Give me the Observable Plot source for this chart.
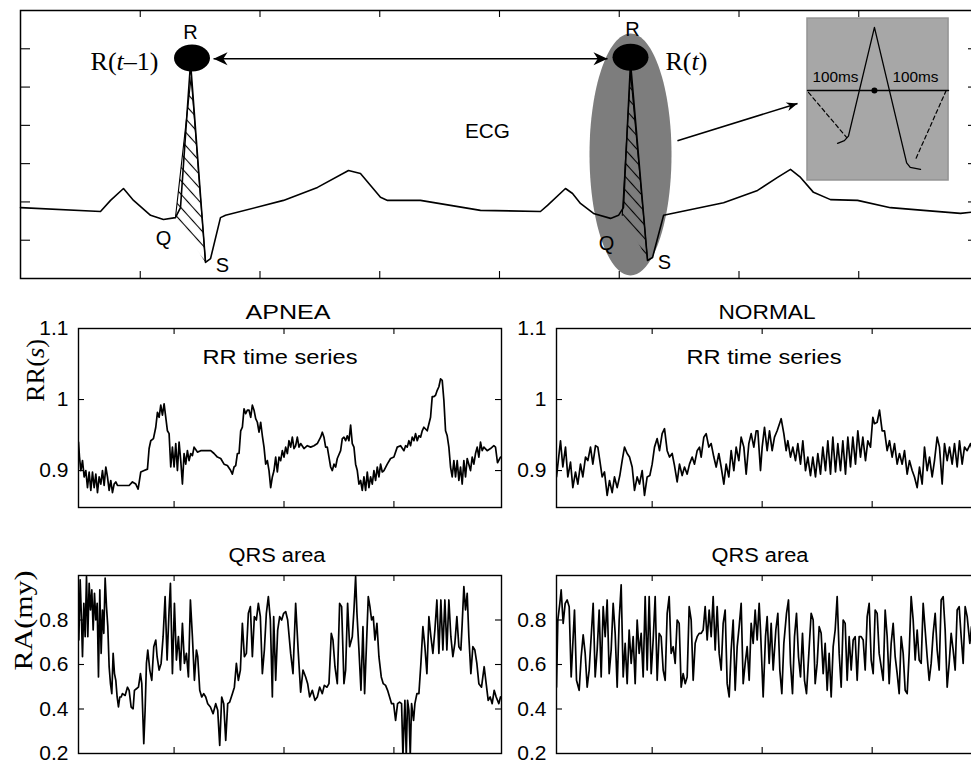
<!DOCTYPE html>
<html><head><meta charset="utf-8">
<script src="https://cdn.jsdelivr.net/npm/d3@7"></script>
<script src="https://cdn.jsdelivr.net/npm/@observablehq/plot@0.6"></script>
<style>
html,body{margin:0;padding:0;background:#fff;overflow:hidden;}
#fig{position:relative;width:971px;height:765px;overflow:hidden;background:#fff;}
#fig svg{position:absolute;overflow:visible;max-width:none !important;background:transparent !important;}
</style></head><body><div id="fig"></div><script>
// ---------- top panel: ECG sketch ----------
const ecgTime = [0,0.668,0.752,0.860,0.944,1.086,1.194,1.294,1.336,1.420,1.545,1.587,1.670,1.712,2.196,2.480,2.739,2.839,3.006,3.065,3.340,3.591,3.841,4.342,4.401,4.551,4.610,4.676,4.785,4.927,4.994,5.035,5.094,5.236,5.278,5.370,5.871,6.155,6.322,6.430,6.514,6.622,6.764,6.990,7.265,7.541,7.850,8.0];
const ecgAmp  = [1.85,1.75,2.04,2.35,2.04,1.65,1.54,1.59,1.85,5.64,0.42,0.52,1.59,1.65,2.04,2.38,2.82,2.74,2.12,2.04,2.04,1.91,1.78,1.75,1.91,2.35,2.22,1.96,1.70,1.57,1.65,1.85,5.64,0.47,0.55,1.65,1.98,2.30,2.64,2.85,2.64,2.25,2.06,2.04,1.85,1.78,1.70,1.75];
const qrsBeat = [1,1,1,2,2,2];
const qrsTime = [1.294,1.425,1.545,5.025,5.094,5.236];
const qrsAmp  = [1.59,5.26,0.42,1.65,5.38,0.50];
const rPeakTime = [1.432,5.094];
const rPeakAmp  = [5.76,5.78];
const focusTime = [5.094];
const focusAmp  = [3.24];
const rrIntervalT = [1.612,4.902];
const rrIntervalA = [5.74,5.74];
const zoomArrowT = [5.486,6.489];
const zoomArrowA = [3.60,4.57];
const insetBoxT = [6.572,7.750];
const insetBoxA = [2.56,6.79];
const insetWaveT = [6.823,6.88,6.914,7.131,7.40,7.43,7.516];
const insetWaveA = [3.53,3.60,3.72,6.56,3.02,2.90,2.85];
const insetBaseT = [6.572,7.750];
const insetBaseA = [4.91,4.91];
const insetDashSeg = [1,1,2,2];
const insetDashT = [6.58,6.90,7.73,7.47];
const insetDashA = [4.86,3.68,4.91,3.08];
const insetCenterT = [7.131], insetCenterA = [4.91];
const sansLabels = ["R","R","Q","S","Q","S","ECG"];
const sansLabelT = [1.420,5.111,1.194,1.687,4.894,5.378,3.90];
const sansLabelA = [6.41,6.50,1.03,0.35,0.91,0.42,3.84];
const msLabels = ["100ms","100ms"];
const msLabelT = [6.806,7.474];
const msLabelA = [5.25,5.25];
const serifLabels = ["R(t–1)","R(t)"];
const serifLabelT = [1.152,5.386];
const serifLabelA = [5.67,5.67];
const ecgXTicks = [1,2,3,4,5,6,7];
const ecgYTicks = [1,2,3,4,5,6];

// ---------- lower panels ----------
const panelTitles = ["APNEA","NORMAL"];
const rowTitles = ["RR time series","QRS area"];
const rowLabels = ["RR(s)","RA(my)"];
const rrTicks = [0.9,1,1.1];
const raTicks = [0.2,0.4,0.6,0.8];
const beatTicks = [58,124,190];

const apneaRR = [[0.6,0.940],[1.2,0.919],[2,0.900],[3,0.914],[4,0.891],[5,0.900],[6,0.876],[7,0.898],[8,0.872],[9,0.898],[10,0.876],[11,0.895],[12,0.869],[13,0.891],[14,0.881],[15,0.900],[16,0.879],[17,0.905],[18,0.891],[19,0.872],[20,0.886],[21,0.869],[22,0.881],[23,0.884],[24,0.879],[26,0.879],[29,0.879],[31,0.879],[33,0.884],[35,0.881],[36.4,0.874],[38,0.898],[40,0.900],[42,0.902],[43,0.931],[44,0.942],[45.6,0.945],[47,0.961],[48,0.982],[49,0.975],[50,0.992],[51,0.978],[52,0.994],[53,0.975],[54,0.956],[55,0.952],[56,0.905],[57,0.933],[58,0.905],[59,0.938],[60,0.900],[61,0.940],[62,0.914],[63,0.881],[64,0.924],[65,0.909],[66,0.928],[67,0.914],[68,0.924],[69,0.921],[70,0.933],[72,0.926],[74,0.928],[76,0.928],[78,0.928],[80,0.928],[82,0.924],[84,0.919],[86,0.917],[88,0.909],[90,0.907],[92,0.900],[93,0.895],[94,0.905],[95,0.907],[96,0.924],[97,0.924],[98,0.956],[99,0.961],[100,0.987],[101,0.980],[102,0.985],[103,0.985],[104,0.975],[105,0.992],[106,0.985],[107,0.973],[108,0.968],[109,0.954],[110,0.968],[111,0.949],[112,0.933],[113,0.909],[114,0.914],[115,0.900],[116,0.876],[117,0.891],[118,0.900],[119,0.919],[120,0.898],[121,0.919],[122,0.914],[123,0.928],[124,0.919],[125,0.933],[126,0.924],[127,0.942],[128,0.933],[129,0.947],[130,0.931],[131,0.935],[132,0.947],[133,0.933],[134,0.938],[136,0.931],[138,0.935],[140,0.933],[142,0.935],[144,0.938],[146,0.947],[147,0.954],[148,0.947],[149,0.933],[150,0.933],[151,0.919],[152,0.905],[153,0.900],[154,0.909],[155,0.905],[156,0.917],[158,0.928],[159,0.945],[160,0.947],[161,0.942],[162,0.949],[163,0.942],[164,0.964],[165,0.938],[166,0.933],[167,0.909],[168,0.900],[169,0.881],[170,0.886],[171,0.872],[172,0.891],[173,0.872],[174,0.898],[175,0.876],[176,0.891],[177,0.881],[178,0.900],[179,0.886],[180,0.905],[181,0.891],[182,0.909],[183,0.898],[184,0.900],[186,0.909],[188,0.917],[190,0.919],[192,0.933],[194,0.935],[196,0.928],[197,0.935],[198,0.933],[199,0.942],[200,0.935],[201,0.947],[202,0.942],[203,0.952],[204,0.942],[205,0.949],[206,0.947],[207,0.956],[208,0.961],[210,0.956],[212,0.975],[213,1.004],[214,1.004],[215,1.006],[216,1.013],[217,1.018],[218,1.029],[219,1.027],[220,0.999],[221,0.956],[222,0.949],[223,0.933],[224,0.905],[225,0.891],[226,0.914],[227,0.891],[228,0.914],[229,0.886],[230,0.905],[231,0.881],[232,0.914],[233,0.891],[234,0.917],[236,0.900],[237,0.919],[238,0.909],[239,0.924],[240,0.933],[241,0.919],[242,0.940],[243,0.928],[244,0.933],[246,0.928],[248,0.931],[250,0.935],[251,0.933],[252.2,0.911],[254,0.919]];

const normalRR = [[0.6,0.891],[3,0.942],[4.4,0.905],[6,0.933],[7.4,0.891],[9,0.912],[10.4,0.876],[12,0.898],[13.4,0.881],[15,0.909],[16.4,0.891],[18,0.919],[19.4,0.914],[21,0.933],[22.4,0.909],[24,0.935],[25.4,0.933],[26.6,0.914],[28,0.891],[29.4,0.898],[31,0.865],[32.4,0.886],[34,0.869],[35.4,0.891],[37,0.876],[38.6,0.893],[40,0.914],[41.4,0.933],[43,0.924],[44.4,0.919],[46,0.905],[47.4,0.872],[49,0.891],[50.4,0.881],[52,0.900],[53.4,0.865],[55,0.891],[56.6,0.893],[58,0.909],[59.4,0.933],[61,0.945],[62.4,0.928],[64,0.952],[65.4,0.959],[67,0.928],[68.4,0.919],[70,0.924],[71.4,0.907],[73,0.884],[74.4,0.909],[76,0.893],[77.4,0.905],[79,0.895],[80.4,0.909],[82,0.919],[83.4,0.909],[85,0.928],[86.4,0.933],[87.4,0.919],[89,0.947],[90.4,0.952],[92,0.933],[93.4,0.938],[95,0.919],[96.4,0.905],[98,0.924],[99.4,0.905],[101,0.881],[102.4,0.909],[104,0.891],[105.4,0.928],[107,0.900],[108.4,0.933],[110,0.914],[111.4,0.947],[113,0.933],[114.4,0.895],[116,0.938],[117.4,0.952],[119,0.933],[120.4,0.956],[121.4,0.956],[123,0.900],[124,0.933],[125.4,0.961],[127,0.928],[128.4,0.956],[130,0.928],[131.4,0.947],[133,0.956],[134.4,0.966],[135.4,0.973],[137,0.952],[138.4,0.928],[139.4,0.942],[141,0.919],[142.4,0.933],[144,0.914],[145.4,0.938],[147,0.909],[148.4,0.942],[150,0.900],[151.4,0.919],[153,0.893],[154.4,0.919],[156,0.891],[157.4,0.924],[159,0.895],[160.4,0.933],[162,0.900],[163.4,0.942],[165,0.895],[166.4,0.947],[168,0.898],[169.4,0.938],[171,0.900],[172.4,0.942],[174,0.895],[175.4,0.947],[177,0.905],[178.4,0.947],[180,0.909],[181.4,0.956],[183,0.919],[184.4,0.947],[186,0.914],[187.4,0.942],[189,0.933],[190.4,0.975],[191.4,0.966],[193,0.968],[194.4,0.985],[196,0.956],[197.4,0.956],[199,0.928],[200.4,0.942],[202,0.919],[203.4,0.938],[205,0.909],[206.4,0.924],[208,0.909],[209.4,0.928],[211,0.895],[212.4,0.914],[214,0.900],[215.4,0.891],[217,0.876],[218.4,0.905],[220,0.881],[221.4,0.933],[223,0.900],[224.4,0.919],[226,0.891],[227.4,0.914],[229,0.947],[230.4,0.933],[232,0.881],[233.4,0.938],[235,0.914],[236.4,0.933],[238,0.909],[239.4,0.938],[241,0.905],[242.4,0.942],[244,0.909],[245.4,0.933],[247,0.928],[249,0.938],[251,0.921],[253,0.933],[255,0.924]];

const apneaRA = [[0.8,0.710],[1.6,0.980],[2.4,0.800],[3,0.635],[3.8,0.875],[4.6,0.725],[5.4,0.995],[6.2,0.725],[7,0.965],[7.8,0.845],[8.6,0.935],[9.4,0.755],[10.2,0.920],[11,0.800],[11.8,0.875],[12.6,0.544],[13.4,0.935],[14.2,0.650],[15,0.845],[15.8,0.740],[16.6,0.988],[17.4,0.860],[18.2,0.770],[19,0.590],[19.8,0.514],[20.6,0.469],[21.4,0.650],[22.2,0.559],[23,0.529],[23.8,0.454],[24.6,0.409],[25.4,0.454],[26.2,0.454],[27,0.469],[28.6,0.461],[30,0.498],[31,0.484],[32.2,0.409],[33.4,0.401],[34.2,0.484],[35.4,0.491],[36.6,0.498],[37.8,0.559],[38.6,0.514],[39.8,0.244],[40.6,0.394],[41.4,0.605],[42.2,0.665],[43.4,0.575],[44.6,0.529],[45.8,0.680],[47,0.710],[47.8,0.635],[49,0.575],[50.2,0.605],[51.4,0.725],[52.6,0.905],[53.8,0.620],[55,0.845],[55.8,0.965],[57,0.559],[58.2,0.875],[59.4,0.620],[60.6,0.725],[61.8,0.575],[63,0.785],[64.2,0.605],[65.4,0.650],[66.6,0.544],[67.8,0.890],[69,0.725],[70.2,0.529],[71.4,0.665],[72.2,0.635],[73.4,0.484],[74.6,0.454],[75.8,0.469],[77,0.454],[78.2,0.424],[79.8,0.409],[81.4,0.379],[83,0.424],[84.2,0.394],[85.4,0.236],[86.6,0.454],[87.8,0.424],[89,0.259],[90.2,0.424],[91.4,0.431],[93,0.469],[94.2,0.498],[95.4,0.605],[96.6,0.529],[97.8,0.575],[99,0.785],[100.2,0.635],[101.4,0.650],[102.6,0.830],[103.8,0.860],[105,0.635],[106.2,0.815],[107.4,0.800],[108.6,0.875],[109.8,0.815],[111,0.559],[112.2,0.665],[113.4,0.830],[114.6,0.905],[115.8,0.800],[117,0.454],[117.8,0.815],[119,0.529],[120.2,0.755],[121.4,0.815],[122.6,0.800],[123.8,0.830],[125,0.838],[126.2,0.800],[128,0.650],[129.4,0.559],[131,0.875],[132.6,0.650],[134,0.476],[135.4,0.575],[137,0.544],[138.2,0.514],[139.4,0.454],[141,0.484],[142.6,0.439],[144,0.454],[145.4,0.498],[147,0.469],[148.2,0.506],[149.8,0.498],[151,0.514],[152.4,0.740],[153.4,0.710],[154.6,0.590],[156,0.514],[157.4,0.875],[158.6,0.860],[160,0.514],[161,0.575],[162.2,0.875],[163.4,0.680],[165,0.725],[166,0.845],[167,0.995],[167.8,0.830],[169,0.665],[170.2,0.484],[171.4,0.770],[172.4,0.469],[173.4,0.665],[174.6,0.905],[175.6,0.860],[176.6,0.800],[177.6,0.815],[178.6,0.710],[179.8,0.785],[181,0.635],[182.4,0.544],[183.6,0.514],[185,0.506],[186.2,0.484],[187.4,0.454],[188.6,0.424],[189.8,0.424],[191,0.349],[192.2,0.424],[193.4,0.431],[194.6,0.424],[195.4,0.190],[196.6,0.439],[197.4,0.190],[198.2,0.439],[199,0.394],[199.8,0.190],[200.6,0.424],[201.8,0.349],[202.6,0.424],[203.8,0.469],[205,0.469],[206.2,0.605],[207.4,0.770],[208.6,0.680],[209.8,0.559],[211,0.815],[212.2,0.725],[213.4,0.650],[214.6,0.755],[215.8,0.890],[217,0.650],[218.2,0.890],[219.4,0.665],[220.6,0.890],[221.8,0.665],[223,0.890],[224.2,0.725],[225.4,0.635],[226.6,0.695],[227.8,0.815],[229,0.680],[230.2,0.665],[231,0.785],[232,0.950],[233,0.845],[234,0.920],[235,0.725],[236.2,0.559],[237.4,0.680],[238.6,0.665],[239.8,0.605],[241,0.514],[242.6,0.498],[244.2,0.590],[245.4,0.514],[246.6,0.439],[247.8,0.454],[249,0.424],[250.2,0.484],[251.4,0.454],[253,0.424],[254,0.454]];

const normalRA = [[0.6,0.498],[1.4,0.800],[2.6,0.875],[3.4,0.935],[4.6,0.785],[5.8,0.875],[7,0.890],[8.2,0.860],[9.4,0.544],[10.6,0.725],[11.4,0.845],[12.6,0.529],[14.2,0.484],[15.4,0.635],[16.6,0.733],[17.8,0.650],[19,0.498],[20.2,0.575],[21.4,0.725],[22.6,0.875],[23.8,0.544],[25,0.665],[26.2,0.845],[27.4,0.544],[28.6,0.860],[29.8,0.725],[31,0.890],[32.2,0.559],[33.4,0.665],[34.6,0.875],[35.8,0.740],[37,0.498],[38.2,0.800],[39.4,0.958],[40.6,0.544],[41.8,0.695],[43,0.514],[44.2,0.755],[45.4,0.605],[46.6,0.725],[47.8,0.514],[49,0.800],[50.2,0.650],[51.4,0.740],[52.6,0.544],[53.8,0.905],[55,0.575],[56.2,0.905],[57.4,0.559],[58.6,0.710],[59.8,0.905],[61,0.529],[62.2,0.740],[63.4,0.725],[64.6,0.575],[65.8,0.529],[67,0.830],[68.2,0.905],[69.4,0.650],[70.6,0.680],[71.8,0.605],[73,0.800],[74.2,0.785],[75.4,0.498],[76.6,0.559],[77.8,0.514],[79,0.544],[80.2,0.860],[81.4,0.800],[82.6,0.529],[83.8,0.695],[85,0.725],[86.2,0.740],[87.4,0.740],[88.6,0.755],[89.8,0.860],[91,0.710],[92.2,0.845],[93.4,0.725],[94.6,0.905],[95.8,0.665],[97,0.860],[98.2,0.650],[99.4,0.575],[100.6,0.785],[101.8,0.845],[103,0.514],[104.2,0.454],[105.4,0.665],[106.6,0.800],[107.8,0.484],[109,0.680],[110.2,0.770],[111.4,0.875],[112.6,0.514],[113.8,0.605],[115,0.680],[116.2,0.529],[117.4,0.785],[118.6,0.695],[119.8,0.845],[121,0.710],[122.2,0.875],[123,0.755],[124.6,0.454],[126,0.725],[127,0.815],[128.2,0.605],[129.4,0.785],[130.6,0.575],[132.2,0.755],[133.4,0.830],[134.6,0.575],[135.8,0.469],[137,0.695],[138.6,0.830],[139.8,0.890],[141,0.605],[142.2,0.469],[143.4,0.725],[144.6,0.830],[145.8,0.635],[147,0.544],[148.2,0.740],[149.4,0.529],[150.6,0.469],[152,0.650],[153.4,0.830],[154.6,0.800],[155.8,0.514],[157,0.605],[158.2,0.770],[159.4,0.740],[160.6,0.559],[161.8,0.695],[163,0.484],[164.2,0.650],[165.4,0.454],[166.6,0.680],[167.8,0.755],[169,0.905],[170.2,0.650],[171.4,0.498],[172.6,0.800],[173.8,0.785],[175,0.529],[176.2,0.725],[177.4,0.575],[178.6,0.710],[179.8,0.725],[181,0.529],[182.2,0.725],[183.4,0.725],[184.6,0.710],[185.8,0.575],[187,0.815],[188.2,0.875],[189.4,0.620],[190.6,0.559],[191.8,0.845],[193,0.830],[194.2,0.650],[195.4,0.590],[196.6,0.529],[197.8,0.845],[199,0.725],[200.2,0.514],[201.4,0.695],[202.6,0.785],[203.8,0.635],[205,0.559],[206.2,0.469],[207.4,0.725],[208.6,0.650],[209.8,0.484],[211,0.469],[212.2,0.650],[213.4,0.905],[214.6,0.800],[215.8,0.620],[217,0.755],[218.2,0.620],[219.4,0.605],[220.6,0.875],[221.8,0.755],[223,0.635],[224.2,0.529],[225.4,0.605],[226.6,0.740],[227.8,0.830],[229,0.665],[230.2,0.575],[231.4,0.890],[232.6,0.905],[233.8,0.755],[235,0.498],[236.2,0.605],[237.4,0.740],[238.6,0.665],[239.8,0.575],[241,0.845],[242.2,0.860],[243.4,0.725],[244.6,0.605],[245.8,0.860],[247,0.815],[248.6,0.695],[249.6,0.770],[251,0.600],[253,0.820],[255,0.650]];

// ---------- helpers ----------
const SANS = '"Liberation Sans", Arial, Helvetica, sans-serif';
const SERIF = '"Liberation Serif", "Times New Roman", serif';
const fig = document.getElementById("fig");
const zip = (...arrs) => arrs[0].map((_, i) => arrs.map(a => a[i]));

function ellipseSymbol(rx, ry) {
  const k = 0.5523;
  return {draw(c) {
    c.moveTo(rx, 0);
    c.bezierCurveTo(rx, ry * k, rx * k, ry, 0, ry);
    c.bezierCurveTo(-rx * k, ry, -rx, ry * k, -rx, 0);
    c.bezierCurveTo(-rx, -ry * k, -rx * k, -ry, 0, -ry);
    c.bezierCurveTo(rx * k, -ry, rx, -ry * k, rx, 0);
    c.closePath();
  }};
}
function headSymbol(len, half) {
  return {draw(c) {
    c.moveTo(0, 0); c.lineTo(len, -half); c.lineTo(len * 0.7, 0); c.lineTo(len, half); c.closePath();
  }};
}
const widths = {"APNEA": 85, "NORMAL": 97, "RR time series": 155, "QRS area": 97, "ECG": 45, "100ms": 46, "RR(s)": 63, "RA(my)": 100};
function finish(svg, left, top) {
  svg.querySelectorAll("text").forEach(t => {
    const s = t.textContent;
    if (widths[s]) { t.setAttribute("textLength", widths[s]); t.setAttribute("lengthAdjust", "spacingAndGlyphs"); }
    if (s === "R(t–1)") t.innerHTML = 'R(<tspan font-style="italic">t</tspan>–1)';
    if (s === "R(t)") t.innerHTML = 'R(<tspan font-style="italic">t</tspan>)';
    if (s === "RR(s)") t.innerHTML = 'RR(<tspan font-style="italic">s</tspan>)';
  });
  svg.style.left = left + "px";
  svg.style.top = top + "px";
  fig.appendChild(svg);
}
function boxTicks(xt, yt, fw, fh, lx, ly) {
  const o = {stroke: "#000", strokeWidth: 1.1};
  return [
    Plot.ruleX(xt, {...o, insetTop: fh - lx}),
    Plot.ruleX(xt, {...o, insetBottom: fh - lx}),
    Plot.ruleY(yt, {...o, insetRight: fw - ly}),
    Plot.ruleY(yt, {...o, insetLeft: fw - ly})
  ];
}

// ---------- top panel ----------
const ecg = zip(ecgTime, ecgAmp).map(([t, a]) => ({t, a}));
const qrs = zip(qrsBeat, qrsTime, qrsAmp).map(([b, t, a]) => ({b, t, a}));
const topW = 978, topH = 290, topML = 20, topMT = 10, topMB = 12;
const topSvg = Plot.plot({
  width: topW, height: topH,
  marginLeft: topML, marginRight: 0, marginTop: topMT, marginBottom: topMB,
  x: {domain: [0, 8], axis: null},
  y: {domain: [0, 7], axis: null},
  style: {fontFamily: SANS, background: "transparent"},
  marks: [
    Plot.dot(zip(focusTime, focusAmp), {x: d => d[0], y: d => d[1], symbol: ellipseSymbol(41, 121), fill: "#7d7d7d", stroke: "none"}),
    Plot.rect([0], {x1: insetBoxT[0], x2: insetBoxT[1], y1: insetBoxA[0], y2: insetBoxA[1], fill: "#a7a7a7", stroke: "#939393", strokeWidth: 1.5}),
    Plot.line(qrs, {x: "t", y: "a", z: "b", fill: "url(#hatch)", stroke: "#000", strokeWidth: 1.1}),
    Plot.line(ecg, {x: "t", y: "a", stroke: "#000", strokeWidth: 1.6}),
    Plot.dot(zip(rPeakTime, rPeakAmp), {x: d => d[0], y: d => d[1], symbol: ellipseSymbol(18, 13.5), fill: "#000", stroke: "none"}),
    Plot.link([0], {x1: rrIntervalT[0], x2: rrIntervalT[1], y1: rrIntervalA[0], y2: rrIntervalA[1], stroke: "#000", strokeWidth: 1.6}),
    Plot.dot([[rrIntervalT[0], rrIntervalA[0]]], {x: d => d[0], y: d => d[1], symbol: headSymbol(14, 6.5), fill: "#000", stroke: "none"}),
    Plot.dot([[rrIntervalT[1], rrIntervalA[1]]], {x: d => d[0], y: d => d[1], symbol: headSymbol(14, 6.5), rotate: 180, fill: "#000", stroke: "none"}),
    Plot.link([0], {x1: zoomArrowT[0], x2: zoomArrowT[1], y1: zoomArrowA[0], y2: zoomArrowA[1], stroke: "#000", strokeWidth: 1.6}),
    Plot.dot([[zoomArrowT[1], zoomArrowA[1]]], {x: d => d[0], y: d => d[1], symbol: headSymbol(11, 4.5), rotate: 162.9, fill: "#000", stroke: "none"}),
    Plot.line(zip(insetBaseT, insetBaseA), {x: d => d[0], y: d => d[1], stroke: "#000", strokeWidth: 1.3}),
    Plot.line(zip(insetWaveT, insetWaveA), {x: d => d[0], y: d => d[1], stroke: "#000", strokeWidth: 1.3}),
    Plot.line(zip(insetDashSeg, insetDashT, insetDashA), {x: d => d[1], y: d => d[2], z: d => d[0], stroke: "#000", strokeWidth: 1.2, strokeDasharray: "4,3"}),
    Plot.dot(zip(insetCenterT, insetCenterA), {x: d => d[0], y: d => d[1], r: 3, fill: "#000", stroke: "none"}),
    Plot.text(zip(sansLabels, sansLabelT, sansLabelA), {x: d => d[1], y: d => d[2], text: d => d[0], fontSize: d => d[0] === "ECG" ? 21 : 20, fontFamily: SANS, fill: "#000"}),
    Plot.text(zip(msLabels, msLabelT, msLabelA), {x: d => d[1], y: d => d[2], text: d => d[0], fontSize: 14, fontFamily: SANS, fill: "#000"}),
    Plot.text([zip(serifLabels, serifLabelT, serifLabelA)[0]], {x: d => d[1], y: d => d[2], text: d => d[0], textAnchor: "end", fontSize: 26, fontFamily: SERIF, fill: "#000"}),
    Plot.text([zip(serifLabels, serifLabelT, serifLabelA)[1]], {x: d => d[1], y: d => d[2], text: d => d[0], textAnchor: "start", fontSize: 26, fontFamily: SERIF, fill: "#000"}),
    ...boxTicks(ecgXTicks, ecgYTicks, topW - topML, topH - topMT - topMB, 7, 10),
    Plot.frame({stroke: "#000", strokeWidth: 1.5})
  ]
});
const defs = document.createElementNS("http://www.w3.org/2000/svg", "defs");
defs.innerHTML = '<pattern id="hatch" patternUnits="userSpaceOnUse" width="9" height="9" patternTransform="rotate(-42)"><line x1="4.5" y1="0" x2="4.5" y2="9" stroke="#000" stroke-width="1.1"/></pattern>';
topSvg.insertBefore(defs, topSvg.firstChild);
finish(topSvg, 0, 0);

// ---------- lower panels ----------
function panel(o) {
  const fw = o.width - o.ml - o.mr, fh = o.height - o.mt - o.mb;
  const marks = [
    Plot.line(o.data, {x: d => d[0], y: d => d[1], stroke: "#000", strokeWidth: 1.7, clip: true}),
    Plot.axisY(o.yLabels, {tickSize: 0, tickPadding: 10, tickFormat: d => String(d), fontSize: 21, fontFamily: SANS, fill: "#000", label: null}),
    ...boxTicks(beatTicks, o.yTicks, fw, fh, 6, 6),
    Plot.frame({stroke: "#000", strokeWidth: 1.4})
  ];
  if (o.title) marks.push(Plot.text([o.title], {frameAnchor: "top", lineAnchor: "middle", dy: o.titleDy, dx: o.titleDx, fontSize: 20, fontFamily: SANS, fill: "#000"}));
  if (o.inner) marks.push(Plot.text([o.inner], {frameAnchor: "top", lineAnchor: "middle", dy: o.innerDy, dx: o.innerDx, fontSize: 20, fontFamily: SANS, fill: "#000"}));
  if (o.ylabel) marks.push(Plot.text([o.ylabel], {frameAnchor: "left", lineAnchor: "middle", dx: o.labelDx, dy: o.labelDy, rotate: -90, fontSize: 26, fontFamily: SERIF, fill: "#000"}));
  const svg = Plot.plot({
    width: o.width, height: o.height,
    marginLeft: o.ml, marginRight: o.mr, marginTop: o.mt, marginBottom: o.mb,
    x: {domain: o.xDomain, axis: null},
    y: {domain: o.yDomain},
    style: {fontFamily: SANS, background: "transparent"},
    marks
  });
  finish(svg, o.left, o.top);
}

panel({data: apneaRR, xDomain: [0.6, 254.6], yDomain: [0.848, 1.1], yLabels: rrTicks, yTicks: [0.9, 1],
  left: 0, top: 290, width: 520, height: 230, ml: 78, mr: 19, mt: 38, mb: 13,
  title: panelTitles[0], titleDy: -16, titleDx: -2,
  inner: rowTitles[0], innerDy: 29, innerDx: -10,
  ylabel: rowLabels[0], labelDx: -43, labelDy: -16});
panel({data: normalRR, xDomain: [0.6, 255.6], yDomain: [0.848, 1.1], yLabels: rrTicks, yTicks: [0.9, 1],
  left: 480, top: 290, width: 501, height: 230, ml: 76, mr: 0, mt: 38, mb: 13,
  title: panelTitles[1], titleDy: -16, titleDx: -2,
  inner: rowTitles[0], innerDy: 29, innerDx: -5});
panel({data: apneaRA, xDomain: [0.6, 254.6], yDomain: [0.2, 1.0], yLabels: raTicks, yTicks: [0.4, 0.6, 0.8],
  left: 0, top: 520, width: 520, height: 245, ml: 78, mr: 19, mt: 55, mb: 12,
  title: rowTitles[1], titleDy: -20, titleDx: -13,
  ylabel: rowLabels[1], labelDx: -55, labelDy: 6});
panel({data: normalRA, xDomain: [0.6, 255.6], yDomain: [0.2, 1.0], yLabels: raTicks, yTicks: [0.4, 0.6, 0.8],
  left: 480, top: 520, width: 501, height: 245, ml: 76, mr: 0, mt: 55, mb: 12,
  title: rowTitles[1], titleDy: -20, titleDx: -9});
</script></body></html>
